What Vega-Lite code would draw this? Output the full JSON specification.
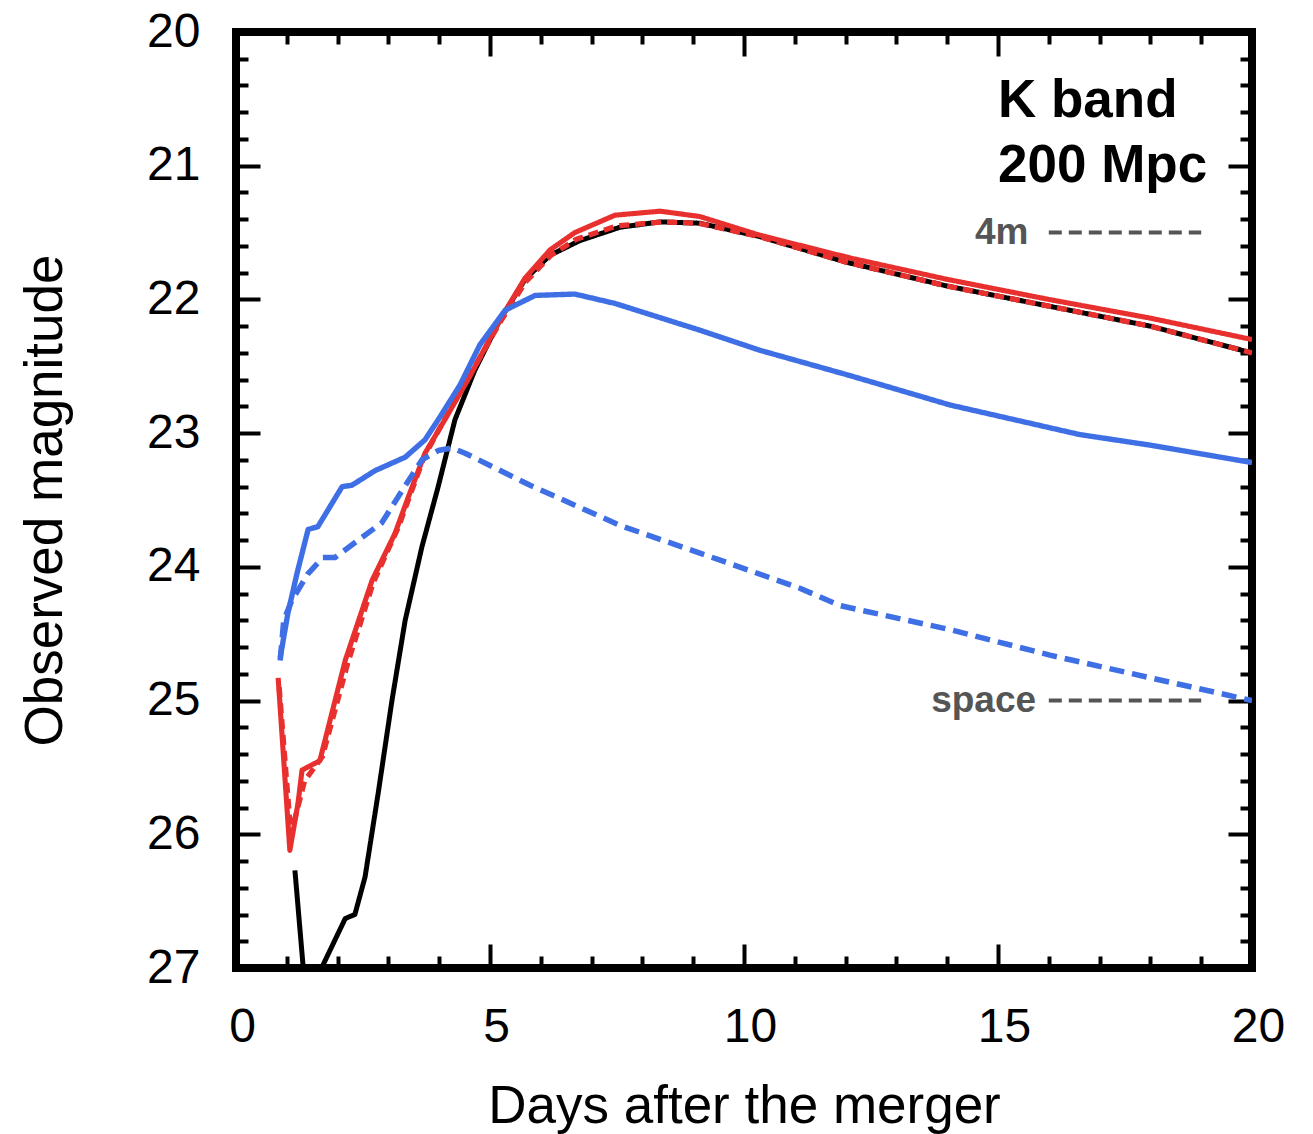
{
  "$schema": "https://vega.github.io/schema/vega-lite/v6.json",
  "width": 1016,
  "height": 936,
  "autosize": "none",
  "padding": {"left": 236, "top": 32, "right": 61, "bottom": 166},
  "config": {
    "view": {"stroke": "black", "strokeWidth": 8},
    "axis": {
      "domain": false, "grid": false, "tickColor": "black", "tickWidth": 4,
      "labelFont": "Liberation Sans", "labelFontSize": 48, "labelColor": "black",
      "labelFlush": false, "labelOverlap": false, "labelBound": false,
      "titleFont": "Liberation Sans", "titleFontSize": 53, "titleFontWeight": "normal", "titleColor": "black"
    }
  },
  "datasets": {
    "curves": [
      {"s": "black", "d": 1.16, "m": 26.27}, {"s": "black", "d": 1.38, "m": 27.25}, {"s": "black", "d": 1.71, "m": 26.98},
      {"s": "black", "d": 2.15, "m": 26.63}, {"s": "black", "d": 2.34, "m": 26.6}, {"s": "black", "d": 2.54, "m": 26.32},
      {"s": "black", "d": 2.8, "m": 25.69}, {"s": "black", "d": 3.07, "m": 25.0}, {"s": "black", "d": 3.33, "m": 24.4},
      {"s": "black", "d": 3.66, "m": 23.85}, {"s": "black", "d": 3.98, "m": 23.4}, {"s": "black", "d": 4.31, "m": 22.9},
      {"s": "black", "d": 4.7, "m": 22.53}, {"s": "black", "d": 5.2, "m": 22.15}, {"s": "black", "d": 5.69, "m": 21.85},
      {"s": "black", "d": 6.18, "m": 21.67}, {"s": "black", "d": 6.77, "m": 21.56}, {"s": "black", "d": 7.56, "m": 21.46},
      {"s": "black", "d": 8.35, "m": 21.42}, {"s": "black", "d": 9.13, "m": 21.43}, {"s": "black", "d": 10.31, "m": 21.53},
      {"s": "black", "d": 12.0, "m": 21.72}, {"s": "black", "d": 14.0, "m": 21.9}, {"s": "black", "d": 16.0, "m": 22.05},
      {"s": "black", "d": 18.0, "m": 22.2}, {"s": "black", "d": 20.0, "m": 22.4},

      {"s": "red", "d": 0.83, "m": 24.83}, {"s": "red", "d": 1.06, "m": 26.12}, {"s": "red", "d": 1.22, "m": 25.77},
      {"s": "red", "d": 1.3, "m": 25.52}, {"s": "red", "d": 1.65, "m": 25.45}, {"s": "red", "d": 2.15, "m": 24.7},
      {"s": "red", "d": 2.68, "m": 24.1}, {"s": "red", "d": 3.13, "m": 23.75}, {"s": "red", "d": 3.39, "m": 23.48},
      {"s": "red", "d": 3.72, "m": 23.15}, {"s": "red", "d": 4.11, "m": 22.9}, {"s": "red", "d": 4.61, "m": 22.57},
      {"s": "red", "d": 5.2, "m": 22.15}, {"s": "red", "d": 5.69, "m": 21.84}, {"s": "red", "d": 6.18, "m": 21.63},
      {"s": "red", "d": 6.67, "m": 21.5}, {"s": "red", "d": 7.46, "m": 21.37}, {"s": "red", "d": 8.35, "m": 21.34},
      {"s": "red", "d": 9.13, "m": 21.38}, {"s": "red", "d": 10.31, "m": 21.52}, {"s": "red", "d": 12.09, "m": 21.69},
      {"s": "red", "d": 14.0, "m": 21.85}, {"s": "red", "d": 16.0, "m": 22.0}, {"s": "red", "d": 18.0, "m": 22.14},
      {"s": "red", "d": 20.0, "m": 22.3},

      {"s": "red dashed", "d": 0.85, "m": 24.9}, {"s": "red dashed", "d": 1.08, "m": 26.0}, {"s": "red dashed", "d": 1.25, "m": 25.75},
      {"s": "red dashed", "d": 1.35, "m": 25.6}, {"s": "red dashed", "d": 1.7, "m": 25.42}, {"s": "red dashed", "d": 2.2, "m": 24.72},
      {"s": "red dashed", "d": 2.7, "m": 24.12}, {"s": "red dashed", "d": 3.2, "m": 23.7}, {"s": "red dashed", "d": 3.7, "m": 23.18},
      {"s": "red dashed", "d": 4.1, "m": 22.9}, {"s": "red dashed", "d": 4.6, "m": 22.57}, {"s": "red dashed", "d": 5.2, "m": 22.17},
      {"s": "red dashed", "d": 5.7, "m": 21.87}, {"s": "red dashed", "d": 6.2, "m": 21.67}, {"s": "red dashed", "d": 6.7, "m": 21.55},
      {"s": "red dashed", "d": 7.5, "m": 21.45}, {"s": "red dashed", "d": 8.4, "m": 21.42}, {"s": "red dashed", "d": 9.1, "m": 21.43},
      {"s": "red dashed", "d": 10.3, "m": 21.53}, {"s": "red dashed", "d": 12.0, "m": 21.72}, {"s": "red dashed", "d": 14.0, "m": 21.9},
      {"s": "red dashed", "d": 16.0, "m": 22.05}, {"s": "red dashed", "d": 18.0, "m": 22.2}, {"s": "red dashed", "d": 20.0, "m": 22.4},

      {"s": "blue", "d": 0.87, "m": 24.68}, {"s": "blue", "d": 1.02, "m": 24.35}, {"s": "blue", "d": 1.2, "m": 24.05},
      {"s": "blue", "d": 1.42, "m": 23.72}, {"s": "blue", "d": 1.61, "m": 23.7}, {"s": "blue", "d": 2.09, "m": 23.4},
      {"s": "blue", "d": 2.28, "m": 23.39}, {"s": "blue", "d": 2.74, "m": 23.28}, {"s": "blue", "d": 3.33, "m": 23.18},
      {"s": "blue", "d": 3.72, "m": 23.05}, {"s": "blue", "d": 3.98, "m": 22.9}, {"s": "blue", "d": 4.41, "m": 22.64},
      {"s": "blue", "d": 4.8, "m": 22.34}, {"s": "blue", "d": 5.3, "m": 22.08}, {"s": "blue", "d": 5.89, "m": 21.97},
      {"s": "blue", "d": 6.67, "m": 21.96}, {"s": "blue", "d": 7.46, "m": 22.03}, {"s": "blue", "d": 9.13, "m": 22.23},
      {"s": "blue", "d": 10.31, "m": 22.38}, {"s": "blue", "d": 12.09, "m": 22.57}, {"s": "blue", "d": 14.06, "m": 22.79},
      {"s": "blue", "d": 16.6, "m": 23.01}, {"s": "blue", "d": 18.0, "m": 23.09}, {"s": "blue", "d": 20.0, "m": 23.22},

      {"s": "blue dashed", "d": 0.87, "m": 24.7}, {"s": "blue dashed", "d": 0.94, "m": 24.4}, {"s": "blue dashed", "d": 1.1, "m": 24.25},
      {"s": "blue dashed", "d": 1.42, "m": 24.05}, {"s": "blue dashed", "d": 1.71, "m": 23.93}, {"s": "blue dashed", "d": 1.95, "m": 23.93},
      {"s": "blue dashed", "d": 2.48, "m": 23.78}, {"s": "blue dashed", "d": 2.87, "m": 23.67}, {"s": "blue dashed", "d": 3.27, "m": 23.43},
      {"s": "blue dashed", "d": 3.66, "m": 23.2}, {"s": "blue dashed", "d": 3.98, "m": 23.13}, {"s": "blue dashed", "d": 4.25, "m": 23.11},
      {"s": "blue dashed", "d": 4.51, "m": 23.15}, {"s": "blue dashed", "d": 5.79, "m": 23.39}, {"s": "blue dashed", "d": 7.56, "m": 23.69},
      {"s": "blue dashed", "d": 9.53, "m": 23.95}, {"s": "blue dashed", "d": 11.1, "m": 24.16}, {"s": "blue dashed", "d": 11.89, "m": 24.29},
      {"s": "blue dashed", "d": 14.06, "m": 24.47}, {"s": "blue dashed", "d": 16.02, "m": 24.66}, {"s": "blue dashed", "d": 18.0, "m": 24.83},
      {"s": "blue dashed", "d": 20.0, "m": 25.0}
    ],
    "limits": [
      {"label": "4m", "d1": 16.0, "d2": 19.0, "m": 21.5, "tx": 15.6},
      {"label": "space", "d1": 16.0, "d2": 19.0, "m": 25.0, "tx": 15.75}
    ],
    "notes": [
      {"text": "K band", "d": 15.0, "m": 20.636},
      {"text": "200 Mpc", "d": 15.0, "m": 21.122}
    ]
  },
  "resolve": {"axis": {"x": "independent", "y": "independent"}},
  "layer": [
    {
      "data": {"name": "curves"},
      "mark": {"type": "line", "clip": true, "strokeJoin": "round", "strokeCap": "butt"},
      "encoding": {
        "x": {"field": "d", "type": "quantitative",
          "scale": {"domain": [0, 20], "nice": false, "zero": false},
          "axis": {"orient": "bottom", "values": [0, 5, 10, 15, 20], "format": "d", "tickSize": -24, "labelPadding": 59, "labelOffset": 6,
            "title": "Days after the merger", "titlePadding": 29}},
        "y": {"field": "m", "type": "quantitative",
          "scale": {"domain": [20, 27], "reverse": true, "nice": false, "zero": false},
          "axis": {"orient": "left", "values": [20, 21, 22, 23, 24, 25, 26, 27], "format": "d", "tickSize": -24, "labelPadding": 60,
            "title": "Observed magnitude", "titlePadding": 74}},
        "detail": {"field": "s"},
        "color": {"field": "s", "type": "nominal", "legend": null,
          "scale": {"domain": ["black", "red", "red dashed", "blue", "blue dashed"], "range": ["#000000", "#E8302F", "#E8302F", "#3F6FE4", "#3F6FE4"]}},
        "strokeDash": {"field": "s", "type": "nominal", "legend": null,
          "scale": {"domain": ["black", "red", "red dashed", "blue", "blue dashed"], "range": [[1, 0], [1, 0], [10, 6], [1, 0], [15, 8]]}},
        "strokeWidth": {"field": "s", "type": "nominal", "legend": null,
          "scale": {"domain": ["black", "red", "red dashed", "blue", "blue dashed"], "range": [5, 5.5, 5.5, 5.5, 5.5]}}
      }
    },
    {
      "data": {"name": "limits"},
      "mark": {"type": "rule", "color": "#555555", "strokeWidth": 4, "strokeDash": [13, 7]},
      "encoding": {
        "x": {"field": "d1", "type": "quantitative",
          "scale": {"domain": [0, 20], "nice": false, "zero": false},
          "axis": {"orient": "bottom", "values": [1, 2, 3, 4, 6, 7, 8, 9, 11, 12, 13, 14, 16, 17, 18, 19], "tickSize": -12, "labels": false, "title": null}},
        "x2": {"field": "d2"},
        "y": {"field": "m", "type": "quantitative",
          "scale": {"domain": [20, 27], "reverse": true, "nice": false, "zero": false},
          "axis": {"orient": "left", "values": [20.2, 20.4, 20.6, 20.8, 21.2, 21.4, 21.6, 21.8, 22.2, 22.4, 22.6, 22.8, 23.2, 23.4, 23.6, 23.8, 24.2, 24.4, 24.6, 24.8, 25.2, 25.4, 25.6, 25.8, 26.2, 26.4, 26.6, 26.8], "tickSize": -12, "labels": false, "title": null}}
      }
    },
    {
      "data": {"name": "limits"},
      "mark": {"type": "text", "align": "right", "baseline": "middle", "font": "Liberation Sans", "fontWeight": "bold", "fontSize": 37, "color": "#555555"},
      "encoding": {
        "text": {"field": "label"},
        "x": {"field": "tx", "type": "quantitative",
          "scale": {"domain": [0, 20], "nice": false, "zero": false},
          "axis": {"orient": "top", "values": [0, 5, 10, 15, 20], "tickSize": -24, "labels": false, "title": null}},
        "y": {"field": "m", "type": "quantitative",
          "scale": {"domain": [20, 27], "reverse": true, "nice": false, "zero": false},
          "axis": {"orient": "right", "values": [20, 21, 22, 23, 24, 25, 26, 27], "tickSize": -24, "labels": false, "title": null}}
      }
    },
    {
      "data": {"name": "notes"},
      "mark": {"type": "text", "align": "left", "baseline": "alphabetic", "font": "Liberation Sans", "fontWeight": "bold", "fontSize": 53, "color": "black"},
      "encoding": {
        "text": {"field": "text"},
        "x": {"field": "d", "type": "quantitative",
          "scale": {"domain": [0, 20], "nice": false, "zero": false},
          "axis": {"orient": "top", "values": [1, 2, 3, 4, 6, 7, 8, 9, 11, 12, 13, 14, 16, 17, 18, 19], "tickSize": -12, "labels": false, "title": null}},
        "y": {"field": "m", "type": "quantitative",
          "scale": {"domain": [20, 27], "reverse": true, "nice": false, "zero": false},
          "axis": {"orient": "right", "values": [20.2, 20.4, 20.6, 20.8, 21.2, 21.4, 21.6, 21.8, 22.2, 22.4, 22.6, 22.8, 23.2, 23.4, 23.6, 23.8, 24.2, 24.4, 24.6, 24.8, 25.2, 25.4, 25.6, 25.8, 26.2, 26.4, 26.6, 26.8], "tickSize": -12, "labels": false, "title": null}}
      }
    }
  ]
}
